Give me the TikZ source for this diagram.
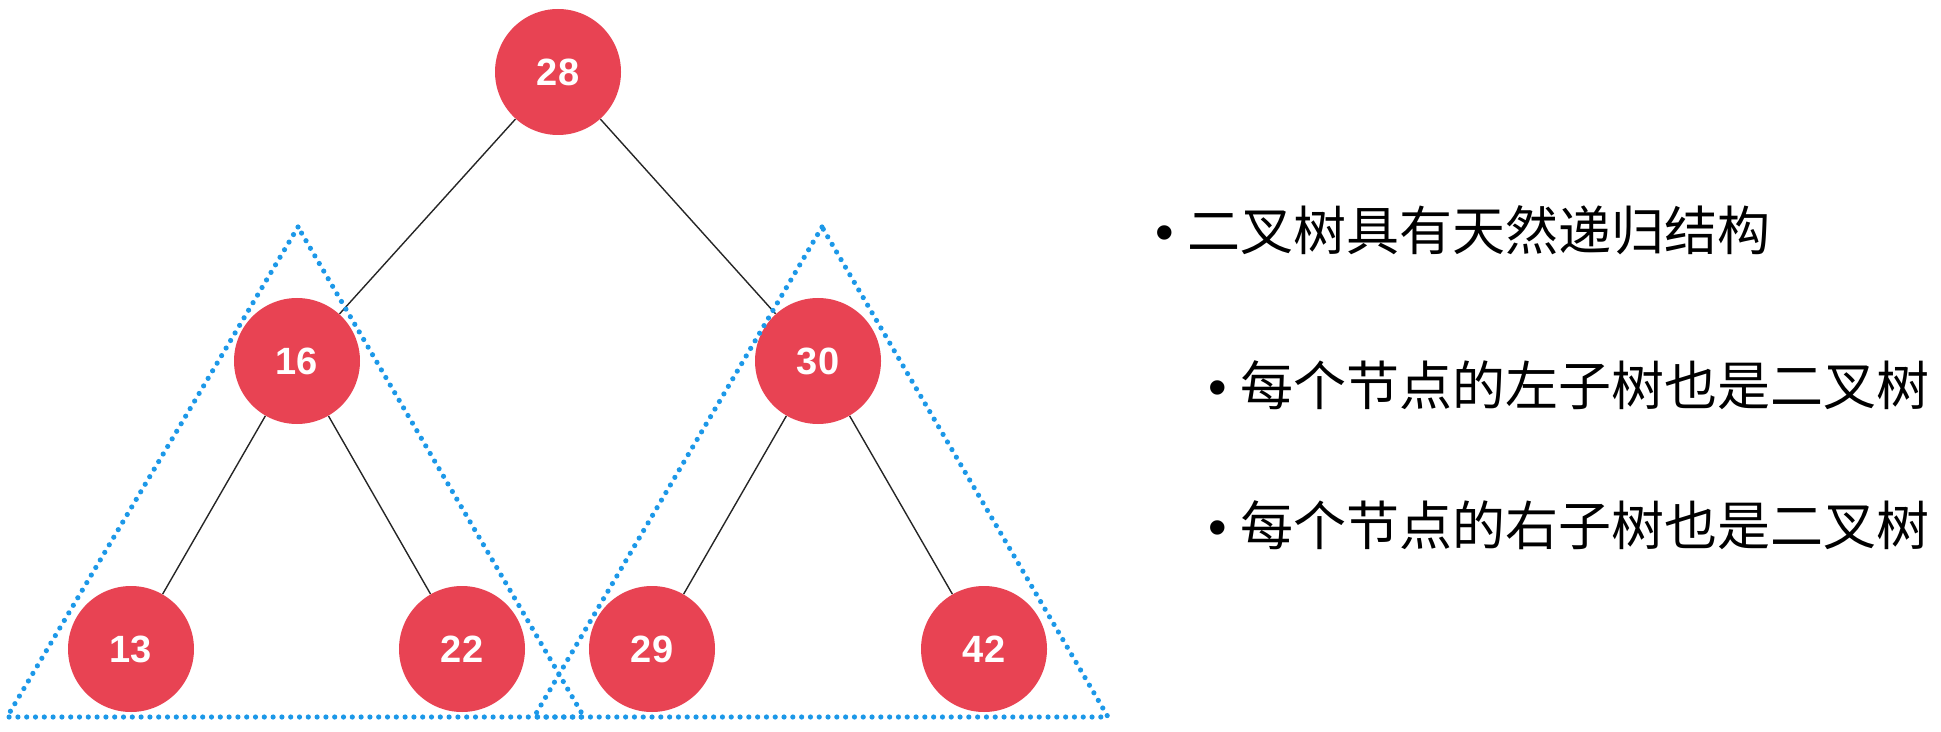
\documentclass[tikz,border=0pt]{standalone}
\usepackage{fontspec}
\setmainfont{Liberation Sans}
\newfontfamily\cjk{Noto Sans CJK SC}
\definecolor{nodered}{RGB}{232,67,83}
\definecolor{dotblue}{RGB}{28,152,232}
\begin{document}
\begin{tikzpicture}[x=0.5pt,y=-0.5pt,
  tnode/.style={circle,fill=nodered,minimum size=63pt,inner sep=0pt,text=white,font=\fontsize{19pt}{21pt}\selectfont\bfseries},
  edge/.style={draw=black!85,line width=0.7pt},
  subtree/.style={draw=dotblue,line width=2.6pt,line cap=round,dash pattern=on 0pt off 4.4pt,line join=round},
  bullettext/.style={inner sep=0pt,font=\fontsize{26.5pt}{30pt}\selectfont}
]
\useasboundingbox (0,0) rectangle (1941,732);
\node[tnode] (n28) at (558,72) {28};
\node[tnode] (n16) at (297,361) {16};
\node[tnode] (n30) at (818,361) {30};
\node[tnode] (n13) at (131,649) {13};
\node[tnode] (n22) at (462,649) {22};
\node[tnode] (n29) at (652,649) {29};
\node[tnode] (n42) at (984,649) {42};
\draw[edge] (n28) -- (n16);
\draw[edge] (n28) -- (n30);
\draw[edge] (n16) -- (n13);
\draw[edge] (n16) -- (n22);
\draw[edge] (n30) -- (n29);
\draw[edge] (n30) -- (n42);
\coordinate (la) at (298,227);
\coordinate (lb) at (7,717);
\coordinate (lc) at (584,717);
\coordinate (ra) at (822,227);
\coordinate (rb) at (534,717);
\coordinate (rc) at (1108,717);
\draw[subtree] (la) -- (lb) -- (lc) -- cycle;
\draw[subtree] (ra) -- (rb) -- (rc) -- cycle;
\node[bullettext,anchor=west] (t1) at (1155,230)
  {\textbullet\hspace{7pt}{\cjk 二叉树具有天然递归结构}};
\node[bullettext,anchor=east] (t2) at (1930,385)
  {\textbullet\hspace{7pt}{\cjk 每个节点的左子树也是二叉树}};
\node[bullettext,anchor=east] (t3) at (1930,525)
  {\textbullet\hspace{7pt}{\cjk 每个节点的右子树也是二叉树}};
\end{tikzpicture}
\end{document}
